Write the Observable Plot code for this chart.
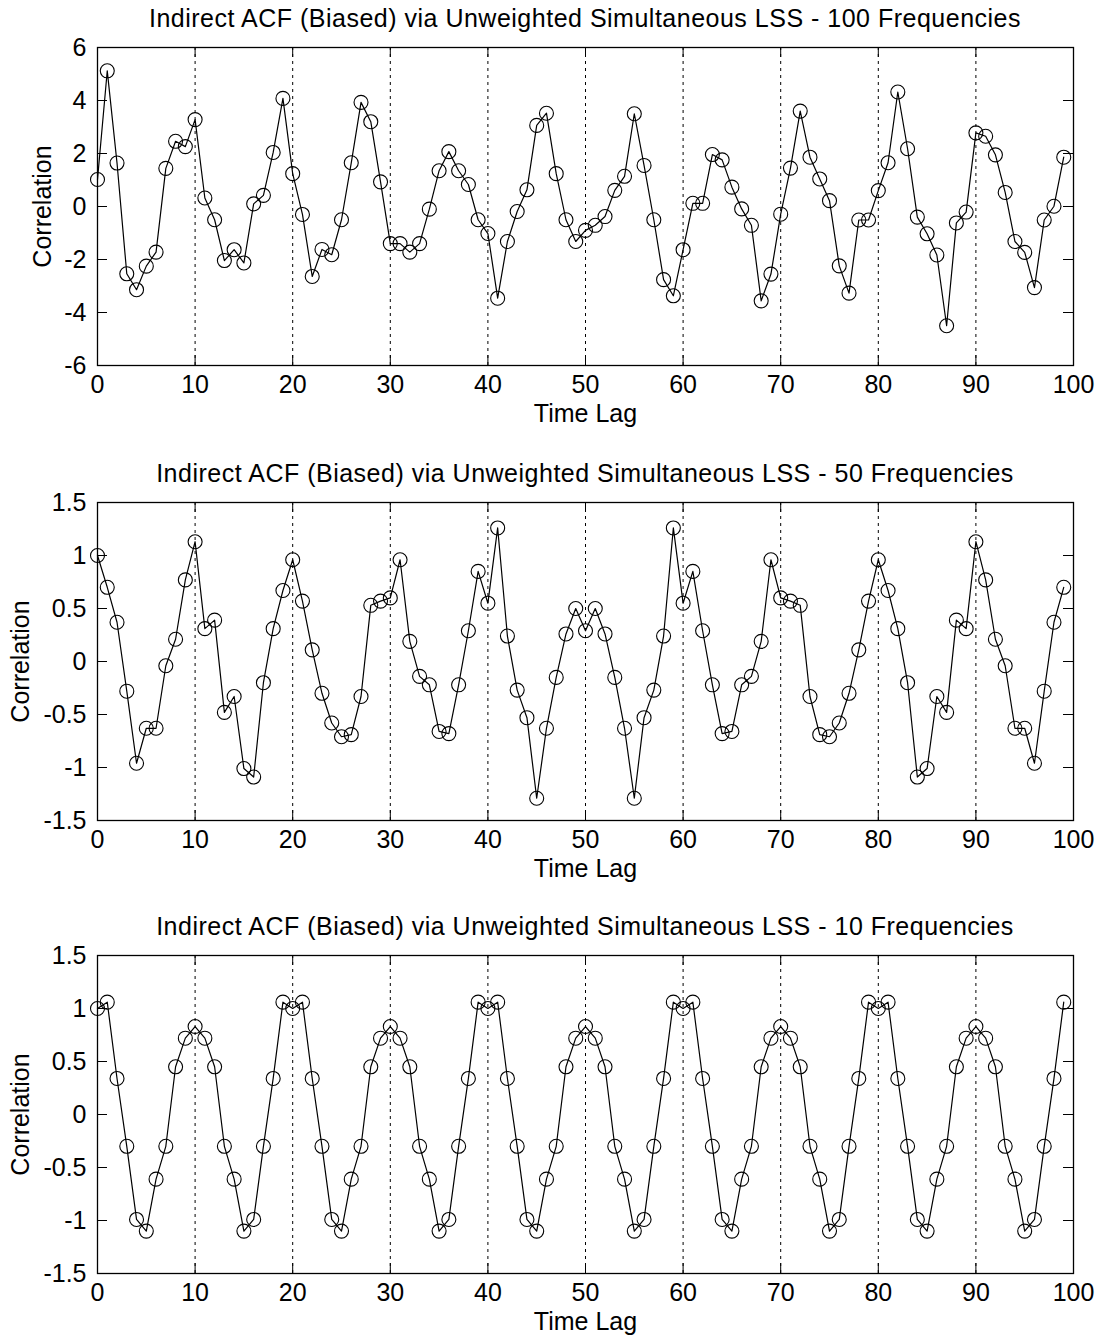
<!DOCTYPE html>
<html>
<head>
<meta charset="utf-8">
<script src="https://cdn.jsdelivr.net/npm/d3@7"></script>
<script src="https://cdn.jsdelivr.net/npm/@observablehq/plot@0.6"></script>
<style>
  body { margin: 0; background: #fff; }
  #chart { width: 1102px; height: 1342px; position: relative; font-family: "Liberation Sans", Arial, Helvetica, sans-serif; color: #000; }
  .panel { position: absolute; left: 0; width: 1102px; }
  .title { position: absolute; left: 97px; width: 976px; top: 0; height: 36px; line-height: 36px; text-align: center; font-size: 25px; letter-spacing: 0.5px; white-space: nowrap; }
  .panel svg { position: absolute; left: 0; top: 36px; }
</style>
</head>
<body>
<div id="chart"></div>
<script>
// ---- Data ----
const titles = [
  "Indirect ACF (Biased) via Unweighted Simultaneous LSS - 100 Frequencies",
  "Indirect ACF (Biased) via Unweighted Simultaneous LSS - 50 Frequencies",
  "Indirect ACF (Biased) via Unweighted Simultaneous LSS - 10 Frequencies"
];
const xLabel = "Time Lag";
const yLabel = "Correlation";
const xTicks = [0, 10, 20, 30, 40, 50, 60, 70, 80, 90, 100];
const gridLags = [10, 20, 30, 40, 50, 60, 70, 80, 90];
const yTicksWide = [-6, -4, -2, 0, 2, 4, 6];
const yTicksNarrow = [-1.5, -1, -0.5, 0, 0.5, 1, 1.5];

const acf100 = [
  1.02, 5.12, 1.64, -2.54, -3.14, -2.25, -1.72, 1.44, 2.46, 2.26,
  3.28, 0.32, -0.50, -2.04, -1.63, -2.13, 0.10, 0.42, 2.04, 4.08,
  1.24, -0.30, -2.64, -1.62, -1.82, -0.50, 1.65, 3.93, 3.20, 0.93,
  -1.40, -1.40, -1.72, -1.40, -0.10, 1.35, 2.07, 1.35, 0.83, -0.50,
  -1.02, -3.46, -1.32, -0.19, 0.63, 3.06, 3.52, 1.24, -0.50, -1.32,
  -0.90, -0.71, -0.38, 0.61, 1.14, 3.50, 1.55, -0.50, -2.76, -3.37,
  -1.63, 0.12, 0.12, 1.96, 1.76, 0.73, -0.09, -0.71, -3.56, -2.55,
  -0.29, 1.45, 3.60, 1.86, 1.04, 0.22, -2.24, -3.27, -0.51, -0.51,
  0.60, 1.65, 4.32, 2.18, -0.40, -1.03, -1.83, -4.50, -0.62, -0.21,
  2.78, 2.65, 1.95, 0.53, -1.32, -1.73, -3.06, -0.51, 0.01, 1.86
];

const acf50 = [
  1.00, 0.70, 0.37, -0.28, -0.96, -0.63, -0.63, -0.04, 0.21, 0.77,
  1.13, 0.31, 0.39, -0.48, -0.33, -1.01, -1.09, -0.20, 0.31, 0.67,
  0.96, 0.57, 0.11, -0.30, -0.58, -0.71, -0.69, -0.33, 0.53, 0.57,
  0.60, 0.96, 0.19, -0.14, -0.22, -0.66, -0.68, -0.22, 0.29, 0.85,
  0.55, 1.26, 0.24, -0.27, -0.53, -1.29, -0.63, -0.15, 0.26, 0.50,
  0.29, 0.50, 0.26, -0.15, -0.63, -1.29, -0.53, -0.27, 0.24, 1.26,
  0.55, 0.85, 0.29, -0.22, -0.68, -0.66, -0.22, -0.14, 0.19, 0.96,
  0.60, 0.57, 0.53, -0.33, -0.69, -0.71, -0.58, -0.30, 0.11, 0.57,
  0.96, 0.67, 0.31, -0.20, -1.09, -1.01, -0.33, -0.48, 0.39, 0.31,
  1.13, 0.77, 0.21, -0.04, -0.63, -0.63, -0.96, -0.28, 0.37, 0.70
];

const acf10 = [
  1.00, 1.06, 0.34, -0.30, -0.99, -1.10, -0.61, -0.30, 0.45, 0.72,
  0.83, 0.72, 0.45, -0.30, -0.61, -1.10, -0.99, -0.30, 0.34, 1.06,
  1.00, 1.06, 0.34, -0.30, -0.99, -1.10, -0.61, -0.30, 0.45, 0.72,
  0.83, 0.72, 0.45, -0.30, -0.61, -1.10, -0.99, -0.30, 0.34, 1.06,
  1.00, 1.06, 0.34, -0.30, -0.99, -1.10, -0.61, -0.30, 0.45, 0.72,
  0.83, 0.72, 0.45, -0.30, -0.61, -1.10, -0.99, -0.30, 0.34, 1.06,
  1.00, 1.06, 0.34, -0.30, -0.99, -1.10, -0.61, -0.30, 0.45, 0.72,
  0.83, 0.72, 0.45, -0.30, -0.61, -1.10, -0.99, -0.30, 0.34, 1.06,
  1.00, 1.06, 0.34, -0.30, -0.99, -1.10, -0.61, -0.30, 0.45, 0.72,
  0.83, 0.72, 0.45, -0.30, -0.61, -1.10, -0.99, -0.30, 0.34, 1.06
];

// ---- Layout ----
const FRAME_W = 976, FRAME_H = 318, TICK = 10;
const panels = [
  {title: titles[0], values: acf100, yTicks: yTicksWide, top: 0, svgH: 419, yLabelOffset: 64},
  {title: titles[1], values: acf50, yTicks: yTicksNarrow, top: 455, svgH: 417, yLabelOffset: 86},
  {title: titles[2], values: acf10, yTicks: yTicksNarrow, top: 908, svgH: 398, yLabelOffset: 86}
];

const chart = document.getElementById("chart");
const fmt = d => String(d);

for (const p of panels) {
  const div = document.createElement("div");
  div.className = "panel";
  div.style.top = p.top + "px";
  div.style.height = (36 + p.svgH) + "px";
  const t = document.createElement("div");
  t.className = "title";
  t.textContent = p.title;
  div.appendChild(t);

  const yDomain = [p.yTicks[0], p.yTicks[p.yTicks.length - 1]];
  const svg = Plot.plot({
    width: 1102,
    height: p.svgH,
    marginTop: 11,
    marginBottom: p.svgH - 11 - FRAME_H,
    marginLeft: 97,
    marginRight: 29,
    style: {fontFamily: '"Liberation Sans", Arial, Helvetica, sans-serif', fontSize: "25px", color: "#000", background: "transparent", overflow: "visible"},
    x: {domain: [0, 100], ticks: xTicks, tickSize: 0, tickPadding: 10, tickFormat: fmt,
        label: xLabel, labelAnchor: "center", labelOffset: 56, labelArrow: "none"},
    y: {domain: yDomain, ticks: p.yTicks, tickSize: 0, tickPadding: 11, tickFormat: fmt,
        label: yLabel, labelAnchor: "center", labelOffset: p.yLabelOffset, labelArrow: "none"},
    marks: [
      Plot.ruleX(gridLags, {stroke: "#000", strokeWidth: 1, strokeDasharray: "3,4"}),
      Plot.ruleX(xTicks, {insetTop: FRAME_H - TICK, stroke: "#000", strokeWidth: 1}),
      Plot.ruleX(xTicks, {insetBottom: FRAME_H - TICK, stroke: "#000", strokeWidth: 1}),
      Plot.ruleY(p.yTicks, {insetRight: FRAME_W - TICK, stroke: "#000", strokeWidth: 1}),
      Plot.ruleY(p.yTicks, {insetLeft: FRAME_W - TICK, stroke: "#000", strokeWidth: 1}),
      Plot.line(p.values, {x: (d, i) => i, y: d => d, stroke: "#000", strokeWidth: 1.2}),
      Plot.dot(p.values, {x: (d, i) => i, y: d => d, r: 7, stroke: "#000", fill: "none", strokeWidth: 1.1}),
      Plot.frame({stroke: "#000", strokeWidth: 1.3})
    ]
  });
  div.appendChild(svg);
  chart.appendChild(div);
}
</script>
</body>
</html>
